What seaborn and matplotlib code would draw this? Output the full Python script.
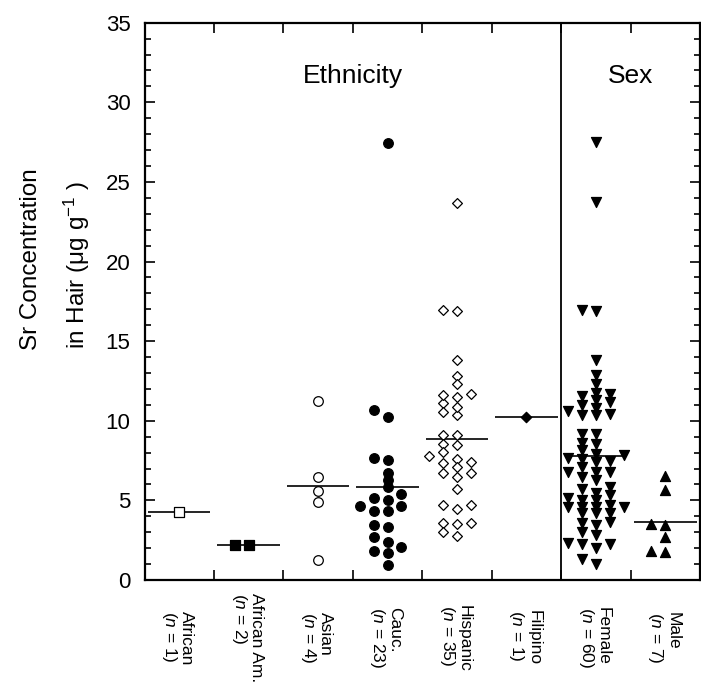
import matplotlib
matplotlib.use("Agg")
import matplotlib.pyplot as plt
import seaborn as sns
import numpy as np
import pandas as pd

# ---------------- data ----------------
categories = ["African", "African Am.", "Asian", "Cauc.", "Hispanic", "Filipino", "Female", "Male"]
n_labels = ["1", "2", "4", "23", "35", "1", "60", "7"]

african = [4.25]
african_am = [2.2, 2.2]
asian = [11.25, 6.5, 5.6, 4.9, 1.25]
cauc = [27.44, 10.66, 10.24, 7.52, 7.65, 6.73, 6.27, 5.81, 5.39, 5.02, 5.18, 4.66,
        4.66, 4.35, 4.35, 3.34, 3.43, 2.68, 2.40, 2.05, 1.71, 1.84, 0.94]
hispanic = [23.68, 16.87, 16.93, 13.79, 12.81, 12.29, 11.12, 11.70, 11.49, 11.62,
            10.55, 10.39, 10.87, 9.13, 9.13, 8.53, 8.46, 8.04, 7.77, 7.63, 7.42,
            7.32, 7.07, 6.73, 6.69, 6.44, 5.69, 4.70, 4.70, 4.45, 3.55, 3.61, 3.49,
            2.99, 2.78]
filipino = [10.25]
female = [27.48, 23.72, 16.88, 16.97, 13.84, 12.85, 12.33, 11.29, 11.74, 11.54,
          11.71, 10.97, 10.83, 11.18, 10.45, 10.34, 10.34, 10.61, 9.20, 9.20, 8.57,
          8.61, 8.15, 7.94, 7.84, 7.63, 7.69, 7.10, 7.48, 7.42, 6.79, 6.79, 6.79,
          6.48, 6.31, 5.74, 5.85, 5.47, 5.33, 5.12, 5.02, 5.02, 4.60, 4.60, 4.60,
          4.60, 4.70, 4.18, 4.18, 4.18, 3.66, 3.55, 3.45, 3.03, 2.82, 2.26, 2.26,
          2.30, 1.99, 1.30, 0.98]
male = [6.52, 5.64, 3.51, 3.45, 2.72, 1.84, 1.74]

series = [african, african_am, asian, cauc, hispanic, filipino, female, male]

# ---------------- styles ----------------
marker_styles = {
    "African": dict(marker="s", s=54, facecolor="white"),
    "African Am.": dict(marker="s", s=54, facecolor="black"),
    "Asian": dict(marker="o", s=48, facecolor="white"),
    "Cauc.": dict(marker="o", s=48, facecolor="black"),
    "Hispanic": dict(marker="D", s=25, facecolor="white"),
    "Filipino": dict(marker="D", s=28, facecolor="black"),
    "Female": dict(marker="v", s=52, facecolor="black"),
    "Male": dict(marker="^", s=52, facecolor="black"),
}


def column_offsets(values, step=0.2, thresh=0.45):
    """Deterministic column-scatter layout: spread close values sideways."""
    pref = [0, -1, 1, -2, 2]
    placed = {c: [] for c in pref}
    offs = [0.0] * len(values)
    order = sorted(range(len(values)), key=lambda i: values[i])
    for i in order:
        v = values[i]
        chosen = None
        for c in pref:
            if all(abs(v - u) >= thresh for u in placed[c]):
                chosen = c
                break
        if chosen is None:
            chosen = max(pref, key=lambda c: min(abs(v - u) for u in placed[c]))
        placed[chosen].append(v)
        offs[i] = chosen * step
    return offs


rows = []
for k, (cat, vals) in enumerate(zip(categories, series)):
    offs = column_offsets(vals)
    for v, o in zip(vals, offs):
        rows.append({"category": cat, "value": v, "pos": k + 0.5 + o})
df = pd.DataFrame(rows)

# ---------------- figure ----------------
sns.set_style("ticks")
plt.rcParams["font.family"] = ["Liberation Sans", "DejaVu Sans"]
plt.rcParams["mathtext.fontset"] = "custom"
plt.rcParams["mathtext.rm"] = "Liberation Sans"
plt.rcParams["mathtext.it"] = "Liberation Sans:italic"
plt.rcParams["mathtext.default"] = "regular"
for key in ["text.color", "axes.labelcolor", "xtick.color", "ytick.color", "axes.edgecolor"]:
    plt.rcParams[key] = "black"

W, H = 701, 683
fig = plt.figure(figsize=(W / 100, H / 100), dpi=100)
left, right, top, bottom = 144.5, 700.0, 22.7, 580.0
ax = fig.add_axes([left / W, 1 - bottom / H, (right - left) / W, (bottom - top) / H])

# mean lines
means = df.groupby("category", sort=False)["value"].mean()
for k, cat in enumerate(categories):
    ax.hlines(means[cat], k + 0.5 - 0.45, k + 0.5 + 0.45, color="black", lw=1.2, zorder=2)

for cat in categories:
    st = marker_styles[cat]
    sub = df[df["category"] == cat]
    sns.scatterplot(data=sub, x="pos", y="value", marker=st["marker"], s=st["s"],
                    color=st["facecolor"], edgecolor="black", linewidth=0.9,
                    ax=ax, zorder=3, legend=False)

# separator between ethnicity and sex
ax.axvline(6, color="black", lw=1.3, zorder=1)

ax.set_xlim(0, 8)
ax.set_ylim(0, 35)

ax.set_yticks(np.arange(0, 36, 5))
ax.set_yticks(np.arange(0, 36, 1), minor=True)
ax.set_xticks(np.arange(1, 8))
ax.set_xticklabels([])

ax.tick_params(axis="y", which="both", direction="in", left=True, right=True,
               labelsize=16, pad=10, width=1.2)
ax.tick_params(axis="y", which="major", length=7.5)
ax.tick_params(axis="y", which="minor", length=4)
ax.tick_params(axis="x", which="major", direction="in", top=True, bottom=True,
               length=7.5, width=1.2)

# category labels (rotated, two lines)
label_y = -(638 - bottom) / (bottom - top)
for k, (c, n) in enumerate(zip(categories, n_labels)):
    ax.text(k + 0.47, label_y, f"{c}\n($\\it{{n}}$ = {n})",
            transform=ax.get_xaxis_transform(), rotation=-90,
            ha="center", va="center", multialignment="left",
            linespacing=1.0, fontsize=12.5)

for sp in ax.spines.values():
    sp.set_linewidth(1.6)
    sp.set_color("black")

ax.set_xlabel("")
ax.set_ylabel("")

ax.text(3, 31.2, "Ethnicity", ha="center", va="baseline", fontsize=19)
ax.text(7, 31.2, "Sex", ha="center", va="baseline", fontsize=19)

fig.text(37 / W, 1 - 259 / H, "Sr Concentration", rotation=90, rotation_mode="anchor",
         ha="center", va="baseline", fontsize=17.5)
fig.text(85 / W, 1 - 265 / H, "in Hair ($\\mu$g g$^{-1}$ )", rotation=90,
         rotation_mode="anchor", ha="center", va="baseline", fontsize=17.5)

fig.savefig("out.png", dpi=100)
